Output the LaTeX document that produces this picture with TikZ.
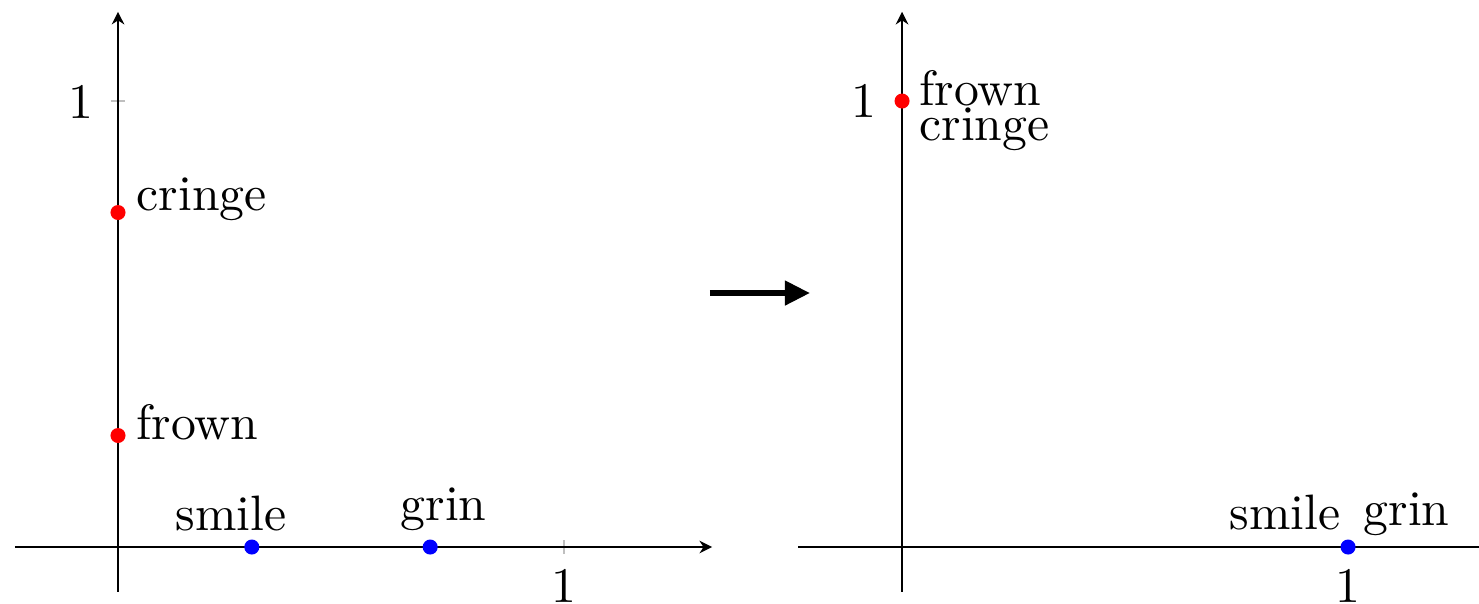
\documentclass[tikz,border=0pt]{standalone}
\usetikzlibrary{positioning,arrows.meta}
\begin{document}
\begin{tikzpicture}[x=3.23cm,y=3.23cm,ax/.style={-{Stealth[length=2.6pt,width=2.6pt]},line width=0.4pt},tk/.style={black!25,line width=0.4pt},pt/.style={circle,inner sep=0pt,minimum size=3.1pt},t/.style={inner sep=0pt,anchor=base,font=\fontsize{10.25}{12}\selectfont}]
\useasboundingbox (-0.2646,-0.1256) rectangle (3.0516,1.2265);
% before
\coordinate (xa1) at (-0.231,0); \coordinate (xb1) at (1.332,0);
\coordinate (ya1) at (0,-0.1); \coordinate (yb1) at (0,1.2);
\draw[tk](1,-0.016)--(1,0.016);
\draw[tk](-0.016,1)--(0.016,1);
\draw[ax](xa1)--(xb1);
\draw[ax](ya1)--(yb1);
\node[t](xl1) at (1,-0.125){1};
\node[t](yl1) at (-0.083,0.96){1};
\node[pt,fill=red](fr1) at (0,0.25){};
\node[pt,fill=red](cr1) at (0,0.75){};
\node[pt,fill=blue](sm1) at (0.3,0){};
\node[pt,fill=blue](gr1) at (0.7,0){};
\node[t,anchor=base west](lfr1) at (0.0395,0.24){frown};
\node[t,anchor=base west](lcr1) at (0.0395,0.7556){cringe};
\node[t](lsm1) at (0.2534,0.0381){smile};
\node[t](lgr1) at (0.730,0.0605){grin};
% map
\coordinate (ma) at (1.327,0.5695); \coordinate (mb) at (1.552,0.5695);
\draw[-{Triangle[length=5.2pt,width=4.8pt]},line width=1.3pt](ma)--(mb);
% after
\begin{scope}[shift={(1.758,0)}]
\coordinate (xa2) at (-0.233,0); \coordinate (xb2) at (1.332,0);
\coordinate (ya2) at (0,-0.1); \coordinate (yb2) at (0,1.2);
\draw[ax](xa2)--(xb2);
\draw[ax](ya2)--(yb2);
\node[t](xl2) at (1,-0.125){1};
\node[t](yl2) at (-0.085,0.962){1};
\node[pt,fill=red](fc2) at (0,1){};
\node[pt,fill=blue](sg2) at (1,0){};
\node[t,anchor=base west](lfr2) at (0.037,0.991){frown};
\node[t,anchor=base west](lcr2) at (0.037,0.9126){cringe};
\node[t](lsm2) at (0.8587,0.0404){smile};
\node[t](lgr2) at (1.1312,0.049){grin};
\end{scope}
\end{tikzpicture}
\end{document}
